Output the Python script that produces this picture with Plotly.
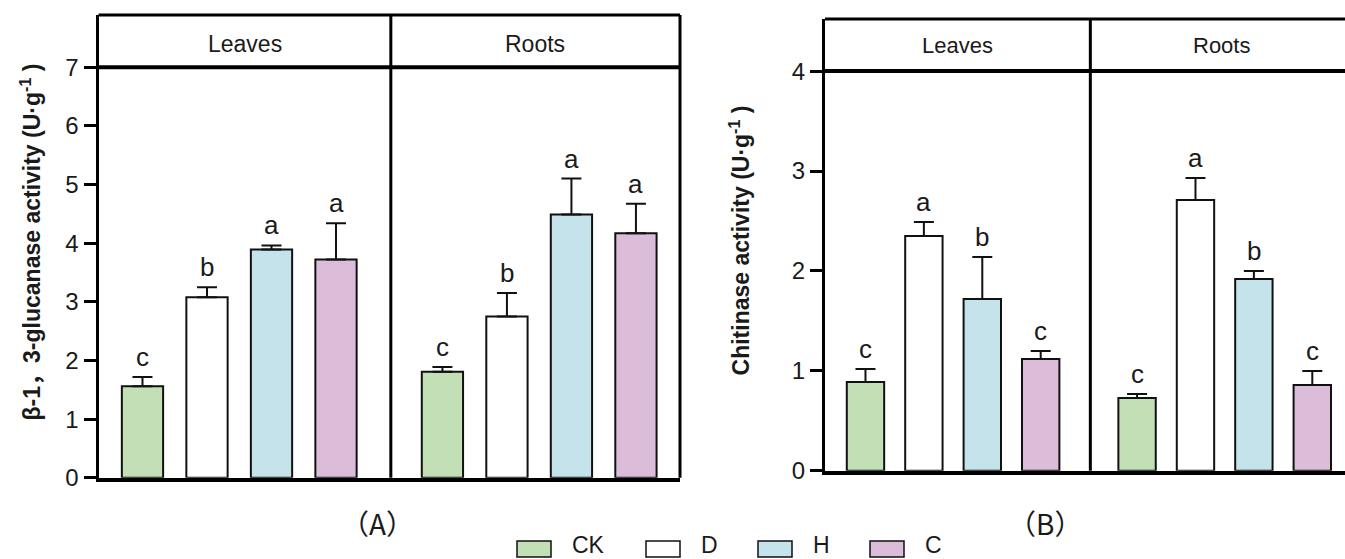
import plotly.graph_objects as go

# ---------------- data ----------------
groups = ["Leaves", "Roots"]
series = ["CK", "D", "H", "C"]
colors = ["#C3DFB5", "#FFFFFF", "#C4E3EA", "#DBBDDA"]

# Panel A: beta-1,3-glucanase activity
glu_leaves = [1.56, 3.08, 3.89, 3.72]
glu_leaves_err = [0.16, 0.17, 0.07, 0.62]
glu_roots = [1.81, 2.75, 4.49, 4.17]
glu_roots_err = [0.08, 0.40, 0.61, 0.50]
glu_leaves_sig = ["c", "b", "a", "a"]
glu_roots_sig = ["c", "b", "a", "a"]

# Panel B: chitinase activity
chi_leaves = [0.89, 2.35, 1.72, 1.12]
chi_leaves_err = [0.13, 0.14, 0.42, 0.08]
chi_roots = [0.73, 2.71, 1.92, 0.86]
chi_roots_err = [0.04, 0.22, 0.08, 0.14]
chi_leaves_sig = ["c", "a", "b", "c"]
chi_roots_sig = ["c", "a", "b", "c"]

yticks_A = [0, 1, 2, 3, 4, 5, 6, 7]
yticks_B = [0, 1, 2, 3, 4]

# ---------------- layout constants ----------------
W, H = 1345, 559          # reference frame used for positions
FIG_H = 573               # figure height (page is shown slightly compressed vertically)
ROOT_OFFSET = 4.65
DIVIDER = 3.85
BAR_W = 0.64
FONT = "Liberation Sans, Arial, sans-serif"
TXT = "#1a1a1a"


def px(x):
    return x / W


def py(y):
    return (H - y) / H


fig = go.Figure()

panels = [
    dict(xa="x", ya="y", leaves=glu_leaves, le=glu_leaves_err, roots=glu_roots, re=glu_roots_err,
         ls=glu_leaves_sig, rs=glu_roots_sig, ystrip=7, ytop=7.888, xr=[-0.682, 8.333], strip_font=23,
         strip_shift=-3, xend=8.333, right_border=True),
    dict(xa="x2", ya="y2", leaves=chi_leaves, le=chi_leaves_err, roots=chi_roots, re=chi_roots_err,
         ls=chi_leaves_sig, rs=chi_roots_sig, ystrip=4, ytop=4.521, xr=[-0.693, 8.21], strip_font=22,
         strip_shift=0, xend=8.333, right_border=False),
]

annotations = []
shapes = []

for p in panels:
    for i, s in enumerate(series):
        xs = [i, ROOT_OFFSET + i]
        ys = [p["leaves"][i], p["roots"][i]]
        es = [p["le"][i], p["re"][i]]
        fig.add_trace(go.Bar(
            x=xs, y=ys, width=BAR_W, name=s, showlegend=False,
            marker=dict(color=colors[i], line=dict(color="#111111", width=2)),
            error_y=dict(type="data", symmetric=False, array=es, arrayminus=[0, 0],
                         color="#111111", thickness=2, width=10),
            xaxis=p["xa"], yaxis=p["ya"],
        ))
        for xv, yv, ev, lab in zip(xs, ys, es, [p["ls"][i], p["rs"][i]]):
            annotations.append(dict(x=xv, y=yv + ev, xref=p["xa"], yref=p["ya"], text=lab,
                                    showarrow=False, xanchor="center", yanchor="bottom", yshift=3,
                                    font=dict(family=FONT, size=26, color=TXT)))
    # strip frame
    lw = 3
    shapes.append(dict(type="line", xref=p["xa"], yref=p["ya"] + " domain",
                       x0=DIVIDER, x1=DIVIDER, y0=0, y1=1, line=dict(color="black", width=lw)))
    shapes.append(dict(type="line", xref=p["xa"] + " domain", yref=p["ya"],
                       x0=0, x1=1, y0=p["ystrip"], y1=p["ystrip"], line=dict(color="black", width=lw + 1)))
    shapes.append(dict(type="line", xref=p["xa"] + " domain", yref=p["ya"] + " domain",
                       x0=0, x1=1, y0=1, y1=1, line=dict(color="black", width=lw)))
    if p["right_border"]:
        shapes.append(dict(type="line", xref=p["xa"] + " domain", yref=p["ya"] + " domain",
                           x0=1, x1=1, y0=0, y1=1, line=dict(color="black", width=lw)))
    ymid = (p["ystrip"] + p["ytop"]) / 2
    annotations.append(dict(x=(p["xr"][0] + DIVIDER) / 2, y=ymid, xref=p["xa"], yref=p["ya"],
                            text=groups[0], showarrow=False, yshift=p["strip_shift"],
                            xanchor="center", yanchor="middle",
                            font=dict(family=FONT, size=p["strip_font"], color=TXT)))
    annotations.append(dict(x=(DIVIDER + p["xend"]) / 2, y=ymid, xref=p["xa"], yref=p["ya"],
                            text=groups[1], showarrow=False, yshift=p["strip_shift"],
                            xanchor="center", yanchor="middle",
                            font=dict(family=FONT, size=p["strip_font"], color=TXT)))

axis_common = dict(showgrid=False, zeroline=False)
fig.update_layout(
    width=W, height=FIG_H, margin=dict(l=0, r=0, t=0, b=0),
    paper_bgcolor="white", plot_bgcolor="white", barmode="overlay",
    xaxis=dict(domain=[px(98.5), px(680)], range=panels[0]["xr"], showticklabels=False, ticks="",
               showline=True, linecolor="black", linewidth=4, anchor="y", **axis_common),
    yaxis=dict(domain=[py(477), py(15)], range=[0, 7.888], tickvals=yticks_A,
               ticks="outside", ticklen=12, tickwidth=3, tickcolor="black",
               showline=True, linecolor="black", linewidth=3, anchor="x",
               tickfont=dict(family=FONT, size=24, color=TXT), **axis_common),
    xaxis2=dict(domain=[px(825), 1.0], range=panels[1]["xr"], showticklabels=False, ticks="",
                showline=True, linecolor="black", linewidth=4, anchor="y2", **axis_common),
    yaxis2=dict(domain=[py(470), py(19)], range=[0, 4.521], tickvals=yticks_B,
                ticks="outside", ticklen=12, tickwidth=3, tickcolor="black",
                showline=True, linecolor="black", linewidth=3, anchor="x2",
                tickfont=dict(family=FONT, size=24, color=TXT), **axis_common),
)

# y-axis titles
annotations.append(dict(x=px(31), y=py(242), xref="paper", yref="paper", textangle=-90,
                        xanchor="center", yanchor="middle",
                        text="<b>β-1，3-glucanase activity (U·g<sup>-1</sup> )</b>", showarrow=False,
                        font=dict(family=FONT + ", Noto Sans CJK SC", size=23, color=TXT)))
annotations.append(dict(x=px(740), y=py(240), xref="paper", yref="paper", textangle=-90,
                        xanchor="center", yanchor="middle",
                        text="<b>Chitinase activity (U·g<sup>-1</sup> )</b>", showarrow=False,
                        font=dict(family=FONT, size=23, color=TXT)))
# panel labels
annotations.append(dict(x=px(377), y=py(522), xref="paper", yref="paper", text="（A）",
                        xanchor="center", yanchor="middle",
                        showarrow=False, font=dict(family="Noto Sans CJK SC", size=28, color=TXT)))
annotations.append(dict(x=px(1045), y=py(522), xref="paper", yref="paper", text="（B）",
                        xanchor="center", yanchor="middle",
                        showarrow=False, font=dict(family="Noto Sans CJK SC", size=28, color=TXT)))

# legend (drawn manually with wide rectangular swatches)
leg_x0 = [517, 646, 758, 870]
for i, s in enumerate(series):
    x0 = leg_x0[i]
    shapes.append(dict(type="rect", xref="paper", yref="paper",
                       x0=px(x0), x1=px(x0 + 34), y0=py(556), y1=py(540),
                       fillcolor=colors[i], line=dict(color="#111111", width=1.5)))
    annotations.append(dict(x=px(x0 + 53), y=py(544), xref="paper", yref="paper",
                            text=s, showarrow=False, xanchor="left", yanchor="middle",
                            font=dict(family=FONT, size=23, color=TXT)))

fig.update_layout(annotations=annotations, shapes=shapes)
fig.write_html(
    "out.html",
    config={"displayModeBar": False, "responsive": False},
    post_script=(
        "document.documentElement.style.margin='0';"
        "document.documentElement.style.padding='0';"
        "document.documentElement.style.overflow='hidden';"
        "document.body.style.margin='0';"
        "document.body.style.padding='0';"
        "document.body.style.overflow='hidden';"
    ),
)
